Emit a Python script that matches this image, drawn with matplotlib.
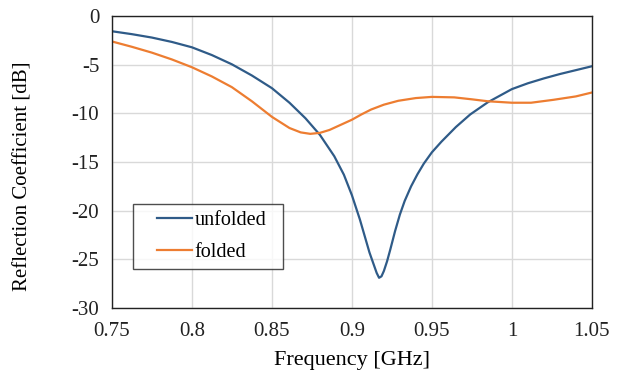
import matplotlib
matplotlib.use("Agg")
import matplotlib.pyplot as plt
from matplotlib.lines import Line2D
from matplotlib.legend_handler import HandlerLine2D

# data
freq_unfolded = [0.75, 0.7625, 0.775, 0.7875, 0.8, 0.8125, 0.825, 0.8375, 0.85, 0.861,
                 0.871, 0.88, 0.889, 0.895, 0.9, 0.905, 0.908, 0.911, 0.914,
                 0.9155, 0.917, 0.9185, 0.92, 0.922, 0.924, 0.927, 0.93, 0.933, 0.937,
                 0.941, 0.945, 0.95, 0.956, 0.965, 0.974, 0.985, 1.0, 1.01, 1.02,
                 1.03, 1.04, 1.05]
s11_unfolded = [-1.55, -1.85, -2.2, -2.65, -3.2, -4.0, -4.95, -6.1, -7.4, -8.9,
                -10.5, -12.2, -14.4, -16.3, -18.4, -20.9, -22.6, -24.3, -25.7,
                -26.4, -26.9, -26.75, -26.2, -25.2, -24.0, -22.1, -20.4, -19.0, -17.5,
                -16.25, -15.15, -14.0, -12.9, -11.4, -10.1, -8.85, -7.5, -6.9, -6.4,
                -5.95, -5.55, -5.15]

freq_folded = [0.75, 0.7625, 0.775, 0.7875, 0.8, 0.8125, 0.825, 0.8375, 0.85, 0.861,
               0.868, 0.874, 0.88, 0.886, 0.892, 0.9, 0.906, 0.912, 0.92, 0.929,
               0.94, 0.95, 0.964, 0.975, 0.985, 1.0, 1.012, 1.026, 1.04, 1.05]
s11_folded = [-2.6, -3.15, -3.75, -4.45, -5.25, -6.2, -7.3, -8.75, -10.35, -11.5,
              -11.95, -12.1, -12.0, -11.7, -11.25, -10.65, -10.1, -9.6, -9.1, -8.7,
              -8.42, -8.3, -8.35, -8.55, -8.75, -8.9, -8.9, -8.6, -8.25, -7.85]

blue = "#2f5b88"
orange = "#ed7d31"

plt.rcParams["font.family"] = ["Liberation Serif", "DejaVu Serif"]
plt.rcParams["axes.unicode_minus"] = False

fig = plt.figure(figsize=(6.25, 3.76), dpi=100)
ax = fig.add_axes([0.179, 0.181, 0.768, 0.776])

ax.plot(freq_unfolded, s11_unfolded, color=blue, lw=1.6, label="unfolded")
ax.plot(freq_folded, s11_folded, color=orange, lw=1.6, label="folded")

ax.set_xlim(0.75, 1.05)
ax.set_ylim(-30, 0)
ax.set_xticks([0.75, 0.8, 0.85, 0.9, 0.95, 1.0, 1.05])
ax.set_xticklabels(["0.75", "0.8", "0.85", "0.9", "0.95", "1", "1.05"])
ax.set_yticks(range(-30, 1, 5))
ax.grid(True, color="#d9d9d9", lw=1)
ax.set_axisbelow(True)
ax.tick_params(length=0, labelsize=15, colors="#222222")
ax.tick_params(axis="x", pad=10)
ax.tick_params(axis="y", pad=9)
for s in ax.spines.values():
    s.set_color("#222222")
    s.set_linewidth(1)

ax.set_xlabel("Frequency [GHz]", fontsize=16, va="center")
ax.xaxis.set_label_coords(0.5, -0.18)
ax.set_ylabel("Reflection Coefficient [dB]", fontsize=15, va="center")
ax.yaxis.set_label_coords(-0.185, 0.452)

leg = ax.legend(loc="lower left", bbox_to_anchor=(0.044, 0.134, 0.312, 0.23),
                mode="expand", fontsize=14.5, frameon=True, fancybox=False,
                edgecolor="#222222", handlelength=2.6, handletextpad=0.1,
                labelspacing=0.63, borderpad=0.35, borderaxespad=0,
                handler_map={Line2D: HandlerLine2D(xpad=0.85)})
leg.get_frame().set_linewidth(1)

fig.savefig("out.png", dpi=100)
